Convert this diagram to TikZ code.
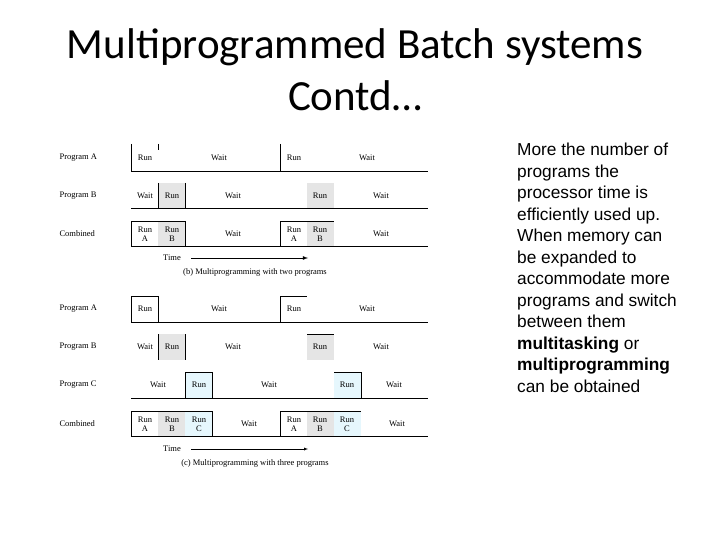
\documentclass[tikz,border=0pt]{standalone}
\usepackage{fontspec}
\setmainfont{Liberation Serif}
\newfontfamily\titlefont{Carlito}
\newfontfamily\bodyfont{Liberation Sans}
\usetikzlibrary{calc}
\begin{document}
\begin{tikzpicture}[x=1pt,y=-1pt,>=latex]

  \tikzstyle{rowLabel} = [anchor=west, font={\fontsize{8.5}{9}\selectfont}];
  \tikzstyle{cell} = [font={\fontsize{8.5}{9}\selectfont}, align=center, inner sep=0pt];
  \tikzstyle{axis} = [black, thin];
  \tikzstyle{runB} = [fill=gray!20];
  \tikzstyle{runC} = [fill=cyan!10];
  \tikzstyle{caption} = [font={\fontsize{8.5}{9}\selectfont}];

  \useasboundingbox (0,0) rectangle (720,540);

  % title and side text
  \node[font={\titlefont\fontsize{43}{52}\selectfont}, align=center, name=title] at (355,70) {Multiprogrammed Batch systems\\Contd\ldots};
  \node[font={\bodyfont\fontsize{17.3}{21.5}\selectfont}, align=left, anchor=north west, inner sep=0pt, name=side] at (517,143)
    {More the number of\\programs the\\processor time is\\efficiently used up.\\When memory can\\be expanded to\\accommodate more\\programs and switch\\between them\\\textbf{multitasking} or\\\textbf{multiprogramming}\\can be obtained};

  % (b) two programs
  \fill[runB] (158,183) rectangle (185,208);
  \fill[runB] (307,183) rectangle (334,208);
  \fill[runB] (158,221) rectangle (185,246);
  \fill[runB] (307,221) rectangle (334,246);
  \draw[axis] (131,144) -- (131,171) -- (428,171);
  \draw[axis] (158,144) -- (158,150);
  \draw[axis] (280,144) -- (280,171);
  \draw[axis] (131,208) -- (428,208);
  \draw[axis] (158,183) -- (158,208) (185,183) -- (185,208);
  \draw[axis] (131,246) -- (131,221) -- (185,221) -- (185,246);
  \draw[axis] (131,246) -- (428,246);
  \draw[axis] (280,246) -- (280,221) -- (334,221);

  \node[rowLabel, name=labAb] at (56,158) {Program A};
  \node[rowLabel, name=labBb] at (56,196) {Program B};
  \node[rowLabel, name=labCombb] at (56,234) {Combined};
  \node[cell] at (145,158) {Run};
  \node[cell] at (219,158) {Wait};
  \node[cell] at (294,158) {Run};
  \node[cell] at (367,158) {Wait};
  \node[cell] at (145,196) {Wait};
  \node[cell] at (172,196) {Run};
  \node[cell] at (233,196) {Wait};
  \node[cell] at (320,196) {Run};
  \node[cell] at (381,196) {Wait};
  \node[cell] at (145,234) {Run\\A};
  \node[cell] at (172,234) {Run\\B};
  \node[cell] at (233,234) {Wait};
  \node[cell] at (294,234) {Run\\A};
  \node[cell] at (320,234) {Run\\B};
  \node[cell] at (381,234) {Wait};

  \node[caption, name=timeb] at (172,258) {Time};
  \coordinate (timebEnd) at (308,258);
  \draw[->, thick] ($(timeb.east)+(7,0)$) -- (timebEnd);
  \node[caption, name=capb] at (255,272) {(b) Multiprogramming with two programs};

  % (c) three programs
  \fill[runB] (158,334) rectangle (185,360);
  \fill[runB] (307,334) rectangle (334,360);
  \fill[runC] (185,372) rectangle (212,398);
  \fill[runC] (334,372) rectangle (361,398);
  \fill[runB] (158,411) rectangle (185,436);
  \fill[runC] (185,411) rectangle (212,436);
  \fill[runB] (307,411) rectangle (334,436);
  \fill[runC] (334,411) rectangle (361,436);
  \draw[axis] (131,322) -- (131,296) -- (158,296) -- (158,322);
  \draw[axis] (131,322) -- (428,322);
  \draw[axis] (280,322) -- (280,296) -- (307,296);
  \draw[axis] (158,334) -- (158,360) (185,334) -- (185,360) (307,334) -- (334,334);
  \draw[axis] (185,398) -- (185,372) -- (212,372) -- (212,398);
  \draw[axis] (334,372) -- (361,372) -- (361,398);
  \draw[axis] (131,398) -- (428,398);
  \draw[axis] (131,436) -- (131,411) -- (212,411) -- (212,436);
  \draw[axis] (280,436) -- (280,411) -- (361,411);
  \draw[axis] (131,436) -- (428,436);

  \node[rowLabel, name=labAc] at (56,309) {Program A};
  \node[rowLabel, name=labBc] at (56,347) {Program B};
  \node[rowLabel, name=labCc] at (56,385) {Program C};
  \node[rowLabel, name=labCombc] at (56,424) {Combined};
  \node[cell] at (145,309) {Run};
  \node[cell] at (219,309) {Wait};
  \node[cell] at (294,309) {Run};
  \node[cell] at (367,309) {Wait};
  \node[cell] at (145,347) {Wait};
  \node[cell] at (172,347) {Run};
  \node[cell] at (233,347) {Wait};
  \node[cell] at (320,347) {Run};
  \node[cell] at (381,347) {Wait};
  \node[cell] at (158,385) {Wait};
  \node[cell] at (199,385) {Run};
  \node[cell] at (269,385) {Wait};
  \node[cell] at (347,385) {Run};
  \node[cell] at (394,385) {Wait};
  \node[cell] at (145,424) {Run\\A};
  \node[cell] at (172,424) {Run\\B};
  \node[cell] at (199,424) {Run\\C};
  \node[cell] at (249,424) {Wait};
  \node[cell] at (294,424) {Run\\A};
  \node[cell] at (320,424) {Run\\B};
  \node[cell] at (347,424) {Run\\C};
  \node[cell] at (397,424) {Wait};

  \node[caption, name=timec] at (172,449) {Time};
  \coordinate (timecEnd) at (308,449);
  \draw[->] ($(timec.east)+(7,0)$) -- (timecEnd);
  \node[caption, name=capc] at (255,463) {(c) Multiprogramming with three programs};

\end{tikzpicture}
\end{document}
